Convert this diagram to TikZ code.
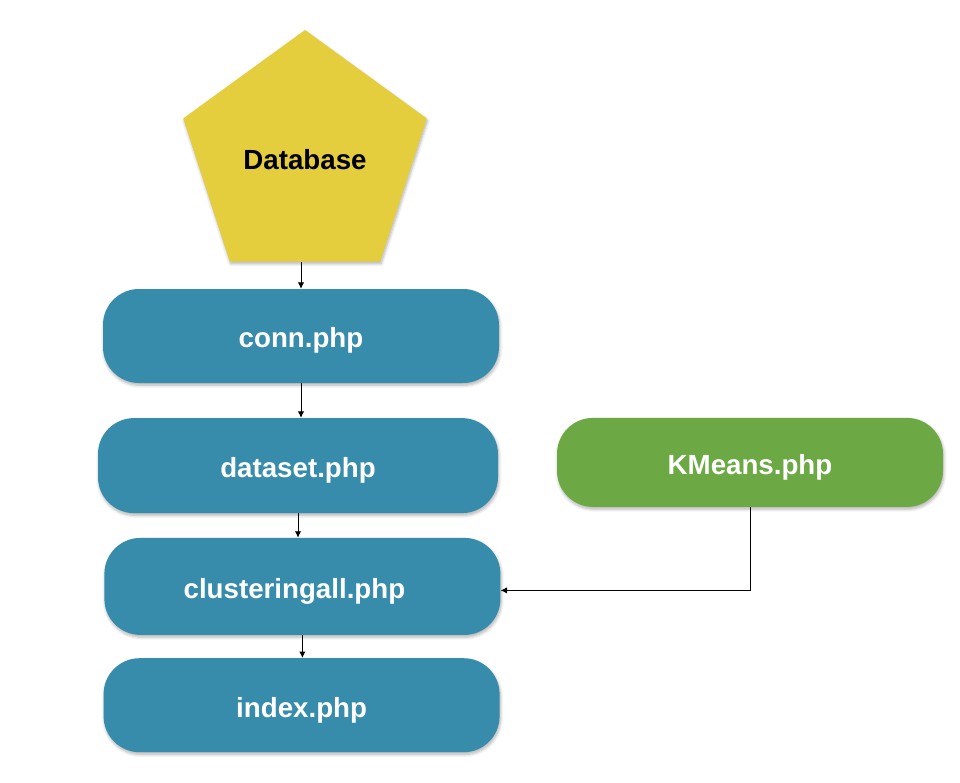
\documentclass[tikz,border=0pt]{standalone}
\usepackage{fontspec}
\setmainfont{Liberation Sans}
\definecolor{phpblue}{RGB}{54,140,170}
\definecolor{kmgreen}{RGB}{108,168,68}
\definecolor{dbyellow}{RGB}{228,206,62}
\usetikzlibrary{shapes,arrows.meta,positioning,calc,shadows.blur}

\tikzset{
    phpbox/.style={rounded corners=0.9cm, fill=phpblue, minimum width=9.9cm, minimum height=2.35cm,
        text=white, font=\fontsize{19.7}{24}\selectfont\bfseries, text height=21pt, text depth=4pt,
        blur shadow={shadow blur steps=6, shadow xshift=0.6pt, shadow yshift=-1.6pt, shadow opacity=30}},
    arr/.style={-{Latex[length=4.5pt,width=4.5pt]}, line width=0.6pt, black}
}

\begin{document}
\begin{tikzpicture}
        \useasboundingbox (0,0) rectangle (24,-19.55);
        \node[regular polygon, regular polygon sides=5, minimum size=6.4cm, inner sep=0pt, fill=dbyellow,
            font=\fontsize{19.7}{24}\selectfont\bfseries, text height=16pt, text depth=0pt,
            blur shadow={shadow blur steps=6, shadow xshift=0.6pt, shadow yshift=-1.6pt, shadow opacity=30}]
            (db) at (7.625,-3.95) {Database};
        \node[phpbox] (conn) at (7.525,-8.4) {conn.php};
        \node[phpbox, minimum width=10cm, minimum height=2.375cm] (dataset) at (7.45,-11.64) {dataset.php};
        \node[phpbox, minimum height=2.425cm] (clustering) at (7.56,-14.66) {\hspace*{-0.4cm}clusteringall.php};
        \node[phpbox] (index) at (7.54,-17.63) {index.php};
        \node[phpbox, fill=kmgreen, minimum width=9.65cm, minimum height=2.225cm] (kmeans) at (18.75,-11.56) {KMeans.php};

        \draw[arr] (conn.north |- db.south) -- (conn.north);
        \draw[arr] (conn.south) -- (conn.south |- dataset.north);
        \draw[arr] (dataset.south) -- (dataset.south |- clustering.north);
        \draw[arr] (clustering.south) -- (clustering.south |- index.north);
        \draw[arr] (kmeans.south) |- ([yshift=-0.1cm]clustering.east);
    \end{tikzpicture}
\end{document}
